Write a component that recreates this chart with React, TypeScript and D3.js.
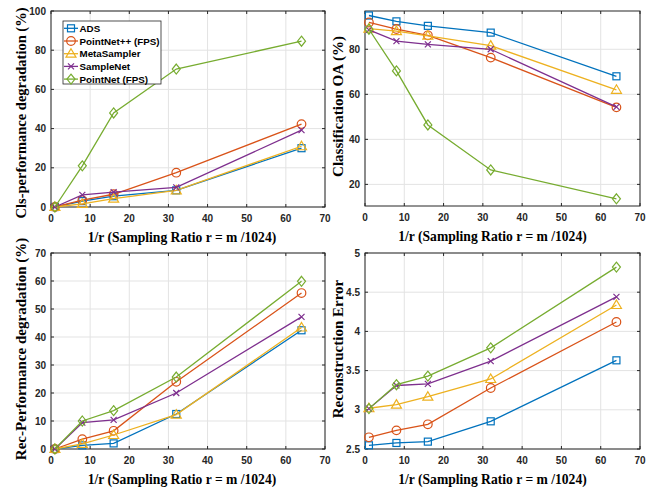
import { useEffect, useRef } from "react";
import * as d3 from "d3";

// sampling ratios on the x axis
const xVals = [1, 8, 16, 32, 64];
const xTicks = [0, 10, 20, 30, 40, 50, 60, 70];

const methods = ["ADS", "PointNet++ (FPS)", "MetaSampler", "SampleNet", "PointNet (FPS)"];
const colors = ["#0072BD", "#D95319", "#EDB120", "#7E2F8E", "#77AC30"];
const markers = ["square", "circle", "triangle", "x", "diamond"];

// one row per method, same order as `methods`
const clsDeg = [
    [0, 3.0, 5.5, 8.5, 30],
    [0, 3.5, 6.5, 17.5, 42.3],
    [0, 1.6, 4.3, 8.5, 31],
    [0, 6.2, 7.6, 10, 39.2],
    [0, 21, 48, 70.4, 84.6],
];
const clsOA = [
    [95, 92.4, 90.4, 87.4, 68],
    [91.9, 89, 86.2, 76.3, 54.2],
    [89.2, 88.1, 86, 81.6, 62],
    [88.6, 83.6, 82.2, 80, 54.4],
    [88.9, 70.4, 46.4, 26.4, 13.6],
];
const recDeg = [
    [0, 1.3, 2, 12.5, 42.4],
    [0, 3.5, 6.5, 24, 55.7],
    [0, 1.8, 5, 12.3, 43.4],
    [0, 9.4, 10.4, 20, 47.2],
    [0, 10, 13.7, 25.7, 59.9],
];
const recErr = [
    [2.547, 2.577, 2.594, 2.853, 3.631],
    [2.649, 2.738, 2.815, 3.278, 4.12],
    [3.02, 3.066, 3.167, 3.393, 4.337],
    [3.015, 3.31, 3.33, 3.62, 4.44],
    [3.015, 3.32, 3.43, 3.79, 4.82],
];

const xLabel = "1/r (Sampling Ratio r = m /1024)";

// box = [left, right, top, bottom]; xOff/yOff/yMid nudge the axis labels
const panels = [
    { data: clsDeg, yLabel: "Cls-performance degradation (%)", yDomain: [0, 100], yTicks: [0, 20, 40, 60, 80, 100], box: [51, 325, 11, 207], xOff: -6, yOff: -25, yMid: 4, yFont: 14.5, legend: true },
    { data: clsOA, yLabel: "Classification OA (%)", yDomain: [10.4, 97], yTicks: [20, 40, 60, 80], box: [365, 640, 11, 206], xOff: -10, yOff: -22, yMid: -2, yFont: 15, legend: false },
    { data: recDeg, yLabel: "Rec-Performance degradation (%)", yDomain: [0, 70], yTicks: [0, 10, 20, 30, 40, 50, 60, 70], box: [51, 325, 253, 449], xOff: -6, yOff: -25, yMid: -2, yFont: 15, legend: false },
    { data: recErr, yLabel: "Reconstruction Error", yDomain: [2.5, 5], yTicks: [2.5, 3, 3.5, 4, 4.5, 5], box: [365, 640, 253, 449], xOff: -10, yOff: -22, yMid: -2, yFont: 15, legend: false },
];

const width = 657;
const height = 490;
const sans = "'Liberation Sans', Arial, sans-serif";
const serif = "'Liberation Serif', 'Times New Roman', serif";

function drawMarker(g: any, type: string, x: number, y: number, color: string) {
    if (type === "square") {
        g.append("rect").attr("x", x - 3.5).attr("y", y - 3.5).attr("width", 7).attr("height", 7)
            .attr("fill", "none").attr("stroke", color).attr("stroke-width", 1.2);
    } else if (type === "circle") {
        g.append("circle").attr("cx", x).attr("cy", y).attr("r", 4.3)
            .attr("fill", "none").attr("stroke", color).attr("stroke-width", 1.2);
    } else if (type === "triangle") {
        g.append("path").attr("d", `M${x},${y - 5}L${x + 5},${y + 3.5}L${x - 5},${y + 3.5}Z`)
            .attr("fill", "none").attr("stroke", color).attr("stroke-width", 1.2);
    } else if (type === "x") {
        g.append("path").attr("d", `M${x - 3},${y - 3}L${x + 3},${y + 3}M${x - 3},${y + 3}L${x + 3},${y - 3}`)
            .attr("fill", "none").attr("stroke", color).attr("stroke-width", 1.2);
    } else {
        g.append("path").attr("d", `M${x},${y - 5}L${x + 4},${y}L${x},${y + 5}L${x - 4},${y}Z`)
            .attr("fill", "none").attr("stroke", color).attr("stroke-width", 1.2);
    }
}

export default function App() {
    const svgRef = useRef<SVGSVGElement>(null);

    useEffect(() => {
        const svg = d3.select(svgRef.current);
        svg.selectAll("*").remove();

        panels.forEach((p) => {
            const [x0, x1, y0, y1] = p.box;
            const x = d3.scaleLinear().domain([0, 70]).range([x0, x1]);
            const y = d3.scaleLinear().domain(p.yDomain).range([y1, y0]);
            const g = svg.append("g");

            // grid
            xTicks.forEach((t) => {
                g.append("line").attr("x1", x(t)).attr("x2", x(t)).attr("y1", y0).attr("y2", y1)
                    .attr("stroke", "#e3e3e3").attr("stroke-width", 1);
            });
            p.yTicks.forEach((t) => {
                g.append("line").attr("x1", x0).attr("x2", x1).attr("y1", y(t)).attr("y2", y(t))
                    .attr("stroke", "#e3e3e3").attr("stroke-width", 1);
            });

            // inward ticks on all four sides
            xTicks.forEach((t) => {
                g.append("line").attr("x1", x(t)).attr("x2", x(t)).attr("y1", y1).attr("y2", y1 - 3).attr("stroke", "#262626");
                g.append("line").attr("x1", x(t)).attr("x2", x(t)).attr("y1", y0).attr("y2", y0 + 3).attr("stroke", "#262626");
                g.append("text").attr("x", x(t)).attr("y", y1 + 15).attr("text-anchor", "middle")
                    .attr("font-family", sans).attr("font-weight", "bold").attr("font-size", 10).attr("fill", "#262626")
                    .text(t);
            });
            p.yTicks.forEach((t) => {
                g.append("line").attr("x1", x0).attr("x2", x0 + 3).attr("y1", y(t)).attr("y2", y(t)).attr("stroke", "#262626");
                g.append("line").attr("x1", x1).attr("x2", x1 - 3).attr("y1", y(t)).attr("y2", y(t)).attr("stroke", "#262626");
                g.append("text").attr("x", x0 - 5).attr("y", y(t) + 3.5).attr("text-anchor", "end")
                    .attr("font-family", sans).attr("font-weight", "bold").attr("font-size", 10).attr("fill", "#262626")
                    .text(String(t));
            });

            g.append("rect").attr("x", x0).attr("y", y0).attr("width", x1 - x0).attr("height", y1 - y0)
                .attr("fill", "none").attr("stroke", "#262626").attr("stroke-width", 1);

            // series
            const line = d3.line<number>().x((d, i) => x(xVals[i])).y((d) => y(d));
            p.data.forEach((vals, k) => {
                g.append("path").attr("d", line(vals)).attr("fill", "none")
                    .attr("stroke", colors[k]).attr("stroke-width", 1.3);
                vals.forEach((v, i) => drawMarker(g, markers[k], x(xVals[i]), y(v), colors[k]));
            });

            // axis labels
            g.append("text").attr("x", (x0 + x1) / 2 + p.xOff).attr("y", y1 + 35).attr("text-anchor", "middle")
                .attr("font-family", serif).attr("font-weight", "bold").attr("font-size", 13.6).attr("fill", "#000")
                .text(xLabel);
            const lx = x0 + p.yOff;
            const ly = (y0 + y1) / 2 + p.yMid;
            g.append("text").attr("transform", `translate(${lx},${ly}) rotate(-90)`).attr("text-anchor", "middle")
                .attr("font-family", serif).attr("font-weight", "bold").attr("font-size", p.yFont).attr("fill", "#000")
                .text(p.yLabel);

            if (p.legend) {
                const lg = svg.append("g");
                lg.append("rect").attr("x", 63).attr("y", 21).attr("width", 98).attr("height", 63)
                    .attr("fill", "#fff").attr("stroke", "#262626").attr("stroke-width", 0.8);
                methods.forEach((m, k) => {
                    const yy = 28.3 + k * 12.7;
                    lg.append("line").attr("x1", 64).attr("x2", 78).attr("y1", yy).attr("y2", yy)
                        .attr("stroke", colors[k]).attr("stroke-width", 1.3);
                    drawMarker(lg, markers[k], 71, yy, colors[k]);
                    lg.append("text").attr("x", 79.5).attr("y", yy + 3.6)
                        .attr("font-family", sans).attr("font-weight", "bold").attr("font-size", 9.8).attr("fill", "#000")
                        .text(m);
                });
            }
        });
    }, []);

    return (
        <svg
            ref={svgRef}
            width={width}
            height={height}
            style={{ position: "absolute", left: 0, top: 0, background: "#fff" }}
        ></svg>
    );
}
